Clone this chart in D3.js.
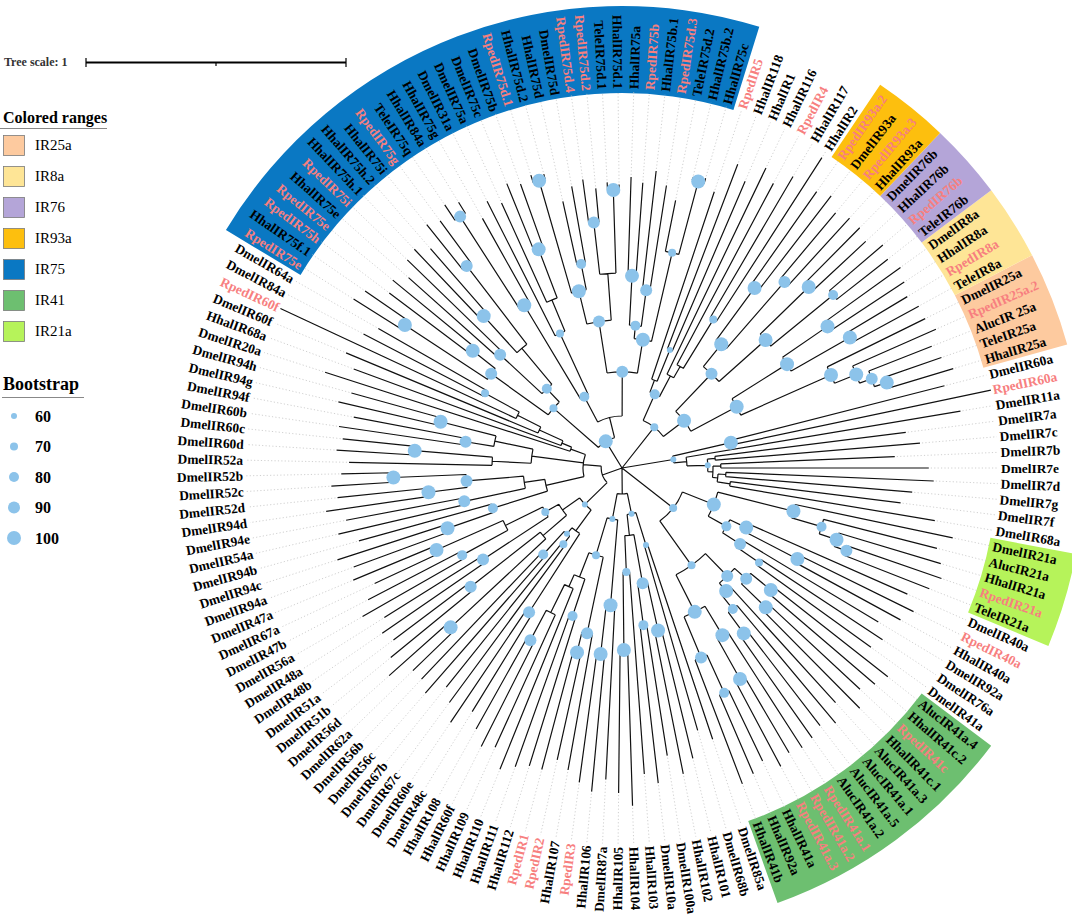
<!DOCTYPE html>
<html>
<head>
<meta charset="utf-8">
<script src="https://cdn.jsdelivr.net/npm/d3@7"></script>
<style>
  body { margin: 0; background: #fff; }
  text { font-family: "Liberation Serif", "Times New Roman", serif; }
</style>
</head>
<body>
<svg id="chart" width="1072" height="917"></svg>
<script>
// leaves, clockwise from the top-left end of the IR75 block
const leafNames = [
  "RpedIR75e","HhalIR75f.1","RpedIR75h","RpedIR75e","HhalIR75e","RpedIR75i","HhalIR75h.1","HhalIR75h.2",
  "HhalIR75i","RpedIR75g","TeleIR75q","HhalIR84a","HhalIR75g","DmelIR31a","DmelIR75a","DmelIR75c",
  "DmelIR75b","RpedIR75d.1","HhalIR75d.2","HhalIR75d","DmelIR75d","RpedIR75d.4","RpedIR75d.2","TeleIR75d.1",
  "HhalIR75d.1","HhalIR75a","RpedIR75b","HhalIR75b.1","RpedIR75d.3","TeleIR75d.2","HhalIR75b.2","HhalIR75c",
  "RpedIR5","HhalIR118","HhalIR1","HhalIR116","RpedIR4","HhalIR117","HhalIR2",
  "RpedIR93a.2","DmelIR93a","RpedIR93a.3","HhalIR93a",
  "DmelIR76b","HhalIR76b","RpedIR76b","TeleIR76b",
  "DmelIR8a","HhalIR8a","RpedIR8a","TeleIR8a",
  "DmelIR25a","RpedIR25a.2","AlucIR 25a","TeleIR25a","HhalIR25a",
  "DmelIR60a","RpedIR60a","DmelIR11a","DmelIR7a","DmelIR7c","DmelIR7b","DmelIR7e","DmelIR7d","DmelIR7g",
  "DmelIR7f","DmelIR68a",
  "DmelIR21a","AlucIR21a","HhalIR21a","RpedIR21a","TeleIR21a",
  "DmelIR40a","RpedIR40a","HhalIR40a","DmelIR92a","DmelIR76a","DmelIR41a",
  "AlucIR41a.4","HhalIR41c.2","RpedIR41c","HhalIR41c.1","AlucIR41a.3","AlucIR41a.1","AlucIR41a.5",
  "AlucIR41a.2","RpedIR41a.1","RpedIR41a.2","RpedIR41a.3","HhalIR41a","HhalIR92a","HhalIR41b",
  "DmelIR85a","DmelIR68b","HhalIR101","HhalIR102","DmelIR100a","DmelIR10a","HhalIR103","HhalIR104",
  "HhalIR105","DmelIR87a","HhalIR106","RpedIR3","HhalIR107","RpedIR2","RpedIR1","HhalIR112","HhalIR111",
  "HhalIR110","HhalIR109","HhalIR60f","HhalIR108",
  "DmelIR48c","DmelIR60e","DmelIR67c","DmelIR67b","DmelIR56c","DmelIR56b","DmelIR62a","DmelIR56d",
  "DmelIR51b","DmelIR51a","DmelIR48b","DmelIR48a","DmelIR56a","DmelIR47b","DmelIR67a","DmelIR47a",
  "DmelIR94a","DmelIR94c","DmelIR94b","DmelIR54a","DmelIR94e","DmelIR94d","DmelIR52d","DmelIR52c",
  "DmelIR52b","DmelIR52a","DmelIR60d","DmelIR60c","DmelIR60b","DmelIR94f","DmelIR94g","DmelIR94h",
  "DmelIR20a","HhalIR68a","DmelIR60f","RpedIR60f","DmelIR84a","DmelIR64a"
];

// clades in newick form: leaf = 1-based index in leafNames, label before ':' = bootstrap,
// number after ':' = distance of the node from the root (tree-scale units)
const ir75a = "(((1:1.22,2:1.20)100:1.00,(3:1.12,4:1.14)100:0.73)90:0.62,((5:1.10,6:1.15)90:0.64,((7:1.16,8:1.12)100:0.79,(9:1.20,10:1.18)90:0.98):0.60)80:0.42)70:0.35";
const ir75b = "(((11:1.22,12:1.20)90:1.15,13:1.10)100:0.73,(14:1.15,(15:1.12,(16:1.18,17:1.16)100:0.90):0.70)70:0.57)80:0.31";
const ir75c = "(((18:1.18,19:1.17)100:1.15,(20:1.05,21:1.10)80:0.80)100:0.70,((22:1.12,23:1.08)90:0.95,(24:1.10,25:1.09)100:1.07):0.75)90:0.57";
const ir75d = "(((26:1.12,27:1.10)100:0.74,(28:1.15,29:1.10)90:0.69)80:0.55,(30:1.05,(31:1.15,32:1.16)100:1.14)70:0.85)100:0.50";
const hhalRped = "((33:1.12,(34:1.25,35:1.20)60:0.49):0.36,(36:1.28,(37:1.24,(38:1.30,39:1.42)70:0.67):0.45):0.40)80:0.31";
const ir93a = "((40:1.30,41:1.32)100:0.86,(42:1.28,43:1.30)90:0.95)100:0.61";
const ir76 = "((44:1.30,45:1.28)100:1.00,(46:1.32,47:1.30)80:1.05)100:0.74";
const ir8a = "((48:1.32,49:1.30)100:0.96,(50:1.28,51:1.30)100:1.01)100:0.75";
const ir25a = "(52:1.30,(53:1.32,(54:1.28,(55:1.30,56:1.33)100:1.07)90:1.02)100:0.97)100:0.88";
const ir7 = "((57:1.28,58:1.45)100:0.43,(59:1.32,((60:1.10,61:1.15):0.36,((62:1.05,63:1.18):0.38,((64:1.20,65:1.12):0.40,(66:1.08,67:1.22):0.42):0.37):0.35)60:0.33):0.25)60:0.20";
const ir21a = "(68:1.30,(69:1.25,(70:1.28,(71:1.30,72:1.27)90:0.92)100:0.87)80:0.80)100:0.68";
const ir40a = "((73:1.20,(74:1.25,75:1.22)100:0.76)100:0.53,(76:1.15,(77:1.20,78:1.18)70:0.64)90:0.54)80:0.46";
const ir41a = "(((79:1.30,80:1.28)100:0.74,(81:1.25,82:1.30)100:0.77)90:0.64,(83:1.22,(84:1.28,(85:1.25,86:1.27)100:0.79)80:0.69)100:0.62)90:0.58";
const ir41b = "((87:1.28,(88:1.27,89:1.30)100:0.93)100:0.75,((90:1.25,91:1.28)80:0.95,92:1.30)90:0.79)100:0.62";
const hhal101 = "((93:1.10,94:1.05)60:0.31,(((95:1.15,96:1.20)100:0.64,(97:1.12,98:1.22)80:0.61)90:0.45,(99:1.18,(100:1.30,101:1.25)100:0.70)70:0.40):0.26)60:0.18";
const hhal106 = "((102:1.20,(103:1.25,104:1.22)100:0.72)100:0.53,((105:1.18,(106:1.15,107:1.20)100:0.73)90:0.65,((108:1.20,109:1.22)80:0.60,(110:1.25,(111:1.18,(112:1.20,113:1.15)90:0.75):0.62):0.50):0.45)70:0.35)60:0.20";
const dmelA = "((114:1.10,115:1.18)90:0.66,((116:1.12,117:1.08)70:0.37,(118:1.15,119:1.12)80:0.45)60:0.33):0.30";
const dmelB = "(((120:1.12,121:1.20)100:0.90,(122:1.15,123:1.10)90:0.74):0.40,((124:1.12,125:1.08)90:0.64,((126:1.15,127:1.10)80:0.70,(128:1.05,129:1.12)100:0.78):0.50)70:0.34):0.28";
const dmelC = "(((130:1.10,131:1.15)100:0.71,132:1.05)80:0.52,((133:1.12,134:1.08)90:0.62,((135:1.15,136:1.10)100:0.75,(137:1.12,138:1.08)100:0.88)90:0.60):0.38):0.30";
const dmelD = "((139:1.05,(140:1.10,141:1.08)100:0.80):0.50,((142:1.10,143:1.05)90:0.61,(144:1.12,145:1.08)100:0.72):0.50):0.35";
const dmelE = "(146:1.20,(147:1.10,(148:1.15,(149:1.45,(150:1.12,151:1.08)70:0.60):0.45):0.35):0.25):0.21";

const treeNewick = "(" + [
  `(${ir75a},(${ir75b},(${ir75c},${ir75d})90:0.37):0.20)100:0.12`,
  `(${hhalRped},((${ir93a},${ir76})90:0.50,(${ir8a},${ir25a})100:0.50)100:0.30)70:0.20`,
  ir7,
  `((${ir21a},${ir40a})100:0.38,(${ir41a},${ir41b})70:0.46)70:0.25`,
  `(${hhal101},${hhal106}):0.10`,
  `((${dmelA},${dmelB})60:0.20,(${dmelC},${dmelD},${dmelE}):0.15):0.08`
].join(",") + "):0";

// colored ranges (legend order)
const rangeNames  = ["IR25a", "IR8a", "IR76", "IR93a", "IR75", "IR41", "IR21a"];
const rangeColors = ["#fdca9f", "#fee596", "#b4a5d8", "#fdbf0e", "#0a78c3", "#6dbf70", "#b6f35a"];
const rangeFrom   = ["DmelIR25a", "DmelIR8a", "DmelIR76b", "RpedIR93a.2", "RpedIR75e", "AlucIR41a.4", "DmelIR21a"];
const rangeTo     = ["HhalIR25a", "TeleIR8a", "TeleIR76b", "HhalIR93a", "HhalIR75c", "HhalIR41b", "TeleIR21a"];

const bootstrapTicks = [60, 70, 80, 90, 100];
const treeScaleValue = 1;

// ---------------------------------------------------------------
const cx = 622, cy = 468;
const labelR = 379, bandIn = 375, bandOut = 462;
const nLeaf = leafNames.length;
const step = 360 / nLeaf;
const a0 = -62.5 * step;   // puts DmelIR7e on the horizontal
const dotColor = "#8cc3ea";
const pink = "#f77f7f";

function parseNewick(str) {
  str = str.replace(/\s+/g, "");
  let pos = 0;
  function node() {
    const n = {};
    if (str[pos] === "(") {
      pos++;
      n.children = [node()];
      while (str[pos] === ",") { pos++; n.children.push(node()); }
      pos++;
    }
    let label = "";
    while (pos < str.length && !",():;".includes(str[pos])) label += str[pos++];
    if (str[pos] === ":") {
      pos++;
      let num = "";
      while (pos < str.length && !",();".includes(str[pos])) num += str[pos++];
      n.height = +num;
    }
    if (n.children) { if (label) n.support = +label; }
    else n.leaf = +label - 1;
    return n;
  }
  return node();
}

const root = d3.hierarchy(parseNewick(treeNewick));
d3.cluster().size([360, 1]).separation(() => 1)(root);

const rScale = d3.scaleLinear().domain([0, 1]).range([0, 260]);
const dotR = d3.scaleLinear().domain([60, 100]).range([3, 7]);
const rad = deg => deg * Math.PI / 180;
const angOf = d => rad(d.x + a0);
const pt = (r, a) => [cx + r * Math.cos(a), cy + r * Math.sin(a)];

const svg = d3.select("#chart");
svg.append("rect").attr("width", 1072).attr("height", 917).attr("fill", "#fff");

// colored ranges behind labels
const bandArc = d3.arc().innerRadius(bandIn).outerRadius(bandOut);
const bands = svg.append("g").attr("transform", `translate(${cx},${cy})`);
rangeNames.forEach((nm, i) => {
  const f = leafNames.indexOf(rangeFrom[i]);
  const t = leafNames.indexOf(rangeTo[i]);
  const s = rad((f - 62.5) * step) + Math.PI / 2;
  const e = rad((t - 61.5) * step) + Math.PI / 2;
  bands.append("path").attr("d", bandArc({ startAngle: s, endAngle: e })).attr("fill", rangeColors[i]);
});

const leaves = root.leaves();

// dotted guides from tips to labels
const guides = d3.path();
leaves.forEach(d => {
  const a = angOf(d);
  const r = rScale(d.data.height);
  if (r < labelR - 4) {
    const p1 = pt(r + 2, a), p2 = pt(labelR - 3, a);
    guides.moveTo(p1[0], p1[1]);
    guides.lineTo(p2[0], p2[1]);
  }
});
svg.append("path").attr("d", guides.toString())
  .attr("stroke", "#c4c4c4").attr("stroke-width", 0.8)
  .attr("stroke-dasharray", "1.2,2.2").attr("fill", "none");

// branches
const br = d3.path();
root.descendants().forEach(d => {
  if (!d.children) return;
  const r = rScale(d.data.height);
  const angs = d.children.map(angOf);
  const amin = d3.min(angs), amax = d3.max(angs);
  if (r > 0) {
    const p = pt(r, amin);
    br.moveTo(p[0], p[1]);
    br.arc(cx, cy, r, amin, amax);
  }
  d.children.forEach(c => {
    const a = angOf(c);
    const p1 = pt(r, a), p2 = pt(rScale(c.data.height), a);
    br.moveTo(p1[0], p1[1]);
    br.lineTo(p2[0], p2[1]);
  });
});
svg.append("path").attr("d", br.toString())
  .attr("stroke", "#111").attr("stroke-width", 1.2).attr("fill", "none");

// bootstrap circles
svg.append("g").selectAll("circle")
  .data(root.descendants().filter(d => d.children && d.data.support >= 60))
  .join("circle")
  .attr("cx", d => pt(rScale(d.data.height), angOf(d))[0])
  .attr("cy", d => pt(rScale(d.data.height), angOf(d))[1])
  .attr("r", d => dotR(d.data.support))
  .attr("fill", dotColor);

// leaf labels
const isLeft = d => {
  const n = (((d.x + a0) % 360) + 360) % 360;
  return n > 90 && n < 270;
};
svg.append("g").selectAll("g")
  .data(leaves)
  .join("g")
  .attr("transform", d => `translate(${cx},${cy}) rotate(${d.x + a0}) translate(${labelR},0)` + (isLeft(d) ? " rotate(180)" : ""))
  .append("text")
  .attr("dy", "0.35em")
  .attr("text-anchor", d => isLeft(d) ? "end" : "start")
  .attr("font-size", 13.4)
  .attr("font-weight", "bold")
  .attr("fill", d => leafNames[d.data.leaf].startsWith("Rped") ? pink : "#000")
  .text(d => leafNames[d.data.leaf]);

// tree scale
const sb = svg.append("g");
sb.append("text").attr("x", 4).attr("y", 66).attr("font-size", 12).attr("font-weight", "bold")
  .attr("fill", "#333").text("Tree scale: " + treeScaleValue);
const sbX = v => 86 + rScale(v);
sb.append("line").attr("x1", sbX(0)).attr("x2", sbX(treeScaleValue)).attr("y1", 62.5).attr("y2", 62.5)
  .attr("stroke", "#000").attr("stroke-width", 2);
[[0, 58, 67], [treeScaleValue / 2, 62.5, 66], [treeScaleValue, 58, 67]].forEach(([v, y1, y2]) => {
  sb.append("line").attr("x1", sbX(v)).attr("x2", sbX(v)).attr("y1", y1).attr("y2", y2)
    .attr("stroke", "#000").attr("stroke-width", 1.2);
});

// legend: colored ranges
const lg = svg.append("g");
lg.append("text").attr("x", 3).attr("y", 123).attr("font-size", 16).attr("font-weight", "bold").text("Colored ranges");
lg.append("line").attr("x1", 0).attr("x2", 107).attr("y1", 128.5).attr("y2", 128.5).attr("stroke", "#888");
rangeNames.forEach((nm, i) => {
  const y = 135 + i * 31;
  lg.append("rect").attr("x", 3.5).attr("y", y + 0.5).attr("width", 21).attr("height", 20)
    .attr("fill", rangeColors[i]).attr("stroke", "#7a7a7a").attr("stroke-width", 0.8);
  lg.append("text").attr("x", 35).attr("y", y + 15).attr("font-size", 15).text(nm);
});

// legend: bootstrap
lg.append("text").attr("x", 3).attr("y", 390).attr("font-size", 18).attr("font-weight", "bold").text("Bootstrap");
lg.append("line").attr("x1", 2).attr("x2", 84).attr("y1", 397.5).attr("y2", 397.5).attr("stroke", "#888");
bootstrapTicks.forEach((v, i) => {
  const y = 416 + i * 30.5;
  lg.append("circle").attr("cx", 14).attr("cy", y).attr("r", dotR(v)).attr("fill", dotColor);
  lg.append("text").attr("x", 35).attr("y", y + 5.5).attr("font-size", 16).attr("font-weight", "bold").text(v);
});
</script>
</body>
</html>
